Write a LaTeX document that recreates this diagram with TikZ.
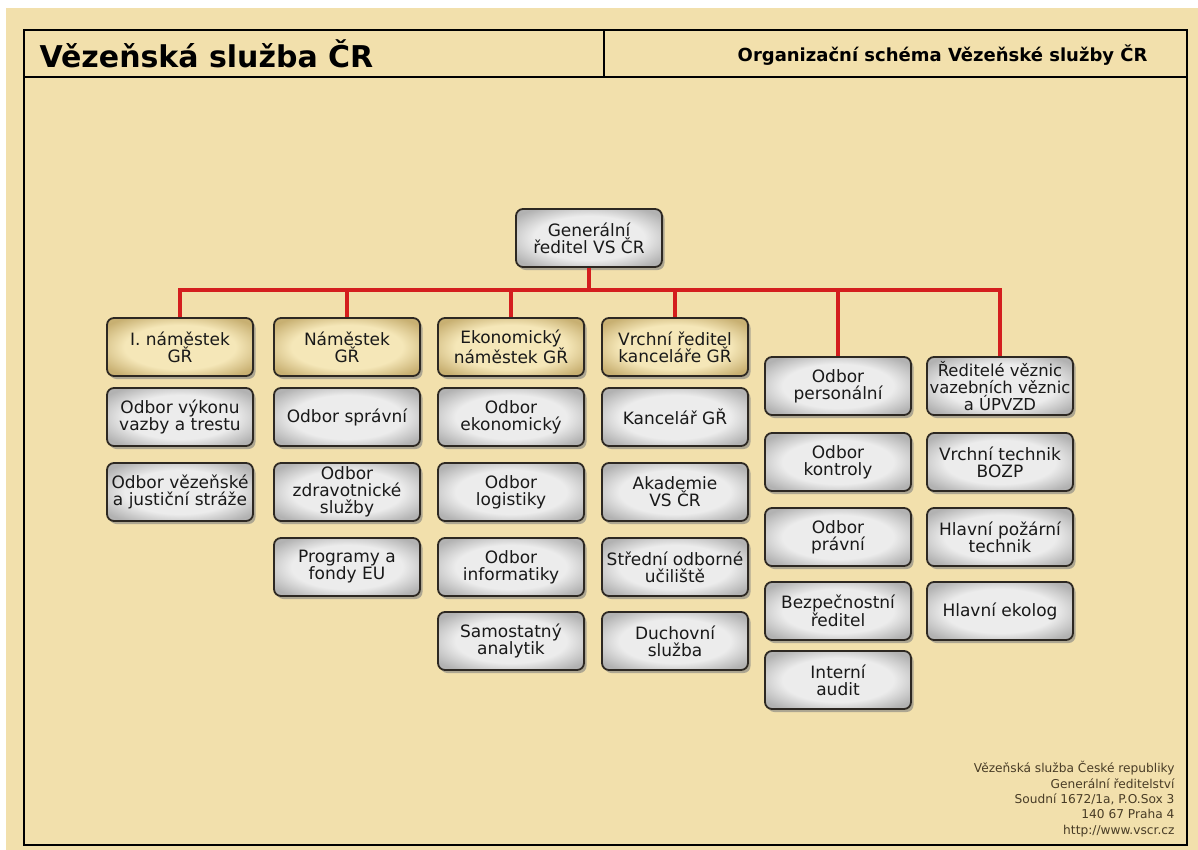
\documentclass[tikz,border=0pt]{standalone}
\usepackage{fontspec}
\setmainfont{DejaVu Sans}
\usetikzlibrary{shadows}
\definecolor{parchment}{RGB}{242,224,172}
\definecolor{boxline}{RGB}{45,40,34}
\definecolor{grayin}{RGB}{236,236,236}
\definecolor{grayout}{RGB}{178,178,178}
\definecolor{tanin}{RGB}{245,231,184}
\definecolor{tanout}{RGB}{200,176,114}
\definecolor{linkred}{RGB}{212,30,30}
\definecolor{footer}{RGB}{72,60,38}
\pgfdeclareradialshading{grayshade}{\pgfpoint{0bp}{0bp}}{color(0bp)=(grayin); color(19bp)=(grayin); color(31bp)=(grayout); color(50bp)=(grayout)}
\pgfdeclareradialshading{tanshade}{\pgfpoint{0bp}{0bp}}{color(0bp)=(tanin); color(19bp)=(tanin); color(31bp)=(tanout); color(50bp)=(tanout)}
\begin{document}
\begin{tikzpicture}
[x=1pt,y=-1pt,
base/.style = {draw=boxline, line width=1.8pt, rounded corners=7pt, minimum width=146pt, minimum height=58pt, inner sep=1pt, align=center, text=black!90, font=\fontsize{17}{17}\selectfont, drop shadow={shadow xshift=2.5pt, shadow yshift=-3pt, opacity=.6}},
unit/.style = {base, shading=grayshade},
deputy/.style = {base, shading=tanshade},
link/.style = {draw=linkred, line width=3.8pt},]

\useasboundingbox (0,0) rectangle (1198,850);
\fill[white] (0,0) rectangle (1198,850);
\fill[parchment] (6,8) rectangle (1198,850);

% frame and header
\draw[line width=2.6pt] (24,30) rectangle (1187,845);
\draw[line width=2.6pt] (24,77) -- (1187,77);
\draw[line width=2.6pt] (604,30) -- (604,77);
\node (title) at (36,54)[anchor=west, font=\bfseries\fontsize{30}{32}\selectfont] {Vězeňská služba ČR};
\node (schema) at (1151,55)[anchor=east, font=\bfseries\fontsize{18}{20}\selectfont] {Organizační schéma Vězeňské služby ČR};

% top
\node (gr) at (589,238)[unit] {Generální\\ředitel VS ČR};

% first row
\node (dep1) at (180,347)[deputy] {I. náměstek\\GŘ};
\node (dep2) at (347,347)[deputy] {Náměstek\\GŘ};
\node (dep3) at (511,347)[deputy] {Ekonomický\\náměstek GŘ};
\node (dep4) at (675,347)[deputy] {Vrchní ředitel\\kanceláře GŘ};
\node (pers) at (838,386)[unit] {Odbor\\personální};
\node (wardens) at (1000,386)[unit, font=\fontsize{16.4}{17}\selectfont] {Ředitelé věznic\\vazebních věznic\\a ÚPVZD};

% column 1
\node (vyk) at (180,417)[unit] {Odbor výkonu\\vazby a trestu};
\node (straz) at (180,492)[unit] {Odbor vězeňské\\a justiční stráže};

% column 2
\node (sprav) at (347,417)[unit] {Odbor správní};
\node (zdrav) at (347,492)[unit] {Odbor\\zdravotnické\\služby};
\node (eu) at (347,567)[unit] {Programy a\\fondy EU};

% column 3
\node (ekon) at (511,417)[unit] {Odbor\\ekonomický};
\node (logi) at (511,492)[unit] {Odbor\\logistiky};
\node (info) at (511,567)[unit] {Odbor\\informatiky};
\node (anal) at (511,641)[unit] {Samostatný\\analytik};

% column 4
\node (kanc) at (675,417)[unit] {Kancelář GŘ};
\node (akad) at (675,492)[unit] {Akademie\\VS ČR};
\node (sou) at (675,567)[unit] {Střední odborné\\učiliště};
\node (duch) at (675,641)[unit] {Duchovní\\služba};

% column 5
\node (kontr) at (838,462)[unit] {Odbor\\kontroly};
\node (prav) at (838,537)[unit] {Odbor\\právní};
\node (bezp) at (838,611)[unit] {Bezpečnostní\\ředitel};
\node (audit) at (838,680)[unit] {Interní\\audit};

% column 6
\node (bozp) at (1000,462)[unit] {Vrchní technik\\BOZP};
\node (pozar) at (1000,537)[unit] {Hlavní požární\\technik};
\node (ekol) at (1000,611)[unit] {Hlavní ekolog};

% links
\coordinate (bus) at (589,290);
\draw[link] (gr.south) -- (bus);
\draw[link] (bus) -| (dep1.north);
\draw[link] (bus) -| (dep2.north);
\draw[link] (bus) -| (dep3.north);
\draw[link] (bus) -| (dep4.north);
\draw[link] (bus) -| (pers.north);
\draw[link] (bus) -| (wardens.north);

% footer
\node (addr) at (1178,758)[anchor=north east, align=right, text=footer, font=\fontsize{12.2}{15.3}\selectfont] {Vězeňská služba České republiky\\Generální ředitelství\\Soudní 1672/1a, P.O.Sox 3\\140 67 Praha 4\\http://www.vscr.cz};

\end{tikzpicture}
\end{document}
